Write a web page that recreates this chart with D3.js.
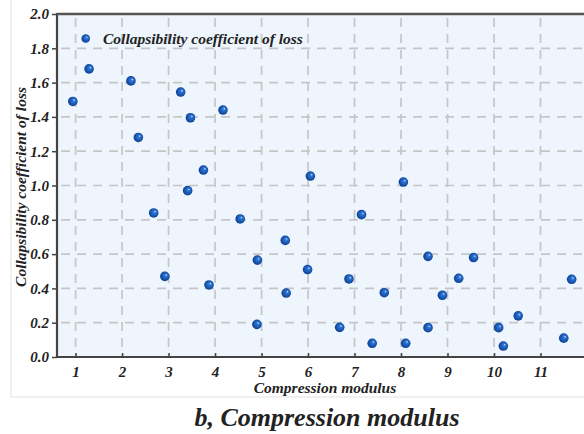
<!DOCTYPE html>
<html>
<head>
<meta charset="utf-8">
<script src="https://cdn.jsdelivr.net/npm/d3@7"></script>
<style>
  body { margin: 0; background: #fff; }
  text { font-family: "Liberation Serif", "Times New Roman", serif; font-weight: bold; font-style: italic; fill: #222; }
</style>
</head>
<body>
<svg width="584" height="434"></svg>
<script>
// データ (圧縮係数 vs 湿陥係数)
var modulus = [0.94, 1.29, 2.19, 2.35, 3.26, 3.47, 4.17, 3.75, 6.05, 3.41, 2.68, 4.54,
    5.51, 4.91, 5.99, 2.92, 3.87, 5.53, 4.90, 8.05, 7.15, 8.58, 9.56, 6.88,
    9.24, 11.67, 7.64, 8.89, 10.52, 6.68, 8.58, 10.10, 11.5, 7.38, 8.10, 10.2];
var coefficient = [1.49, 1.68, 1.61, 1.28, 1.545, 1.395, 1.44, 1.09, 1.055, 0.97, 0.84, 0.805,
    0.68, 0.565, 0.51, 0.47, 0.42, 0.373, 0.19, 1.02, 0.83, 0.587, 0.58, 0.455,
    0.459, 0.453, 0.375, 0.36, 0.24, 0.173, 0.171, 0.171, 0.11, 0.08, 0.08, 0.064];
var xTicks = [1, 2, 3, 4, 5, 6, 7, 8, 9, 10, 11];
var yTicks = [0.0, 0.2, 0.4, 0.6, 0.8, 1.0, 1.2, 1.4, 1.6, 1.8, 2.0];
var seriesName = "Collapsibility coefficient of loss";

var svg = d3.select("svg");

// 外枠
svg.append("rect")
    .attr("x", 11).attr("y", -2).attr("width", 600).attr("height", 399)
    .attr("fill", "#fff").attr("stroke", "#e2e2e2").attr("stroke-width", 1);

// プロット領域 (topはwindow.topと衝突するので別名)
var pLeft = 57, pTop = 14, pRight = 587, pBottom = 357;
var x = d3.scaleLinear().domain([0.6, 12]).range([pLeft, pRight]);
var y = d3.scaleLinear().domain([0, 2]).range([pBottom, pTop]);

// 背景
svg.append("rect")
    .attr("x", pLeft).attr("y", pTop)
    .attr("width", pRight - pLeft).attr("height", pBottom - pTop)
    .attr("fill", "#eef5fd");

// グリッド
var grid = svg.append("g")
    .attr("stroke", "#c6c6c6").attr("stroke-width", 1.7)
    .attr("stroke-dasharray", "9,7");
grid.selectAll(".vg").data(xTicks).enter().append("line")
    .attr("x1", d => x(d)).attr("x2", d => x(d))
    .attr("y1", pTop + 4).attr("y2", pBottom);
grid.selectAll(".hg").data(yTicks.filter(d => d > 0 && d < 2)).enter().append("line")
    .attr("x1", pLeft + 4).attr("x2", pRight)
    .attr("y1", d => y(d)).attr("y2", d => y(d));

// 軸
var xAxis = svg.append("g")
    .attr("transform", "translate(0," + pBottom + ")")
    .call(d3.axisBottom(x).tickValues(xTicks).tickSize(-4).tickPadding(7).tickFormat(d3.format("d")));
var yAxis = svg.append("g")
    .attr("transform", "translate(" + pLeft + ",0)")
    .call(d3.axisLeft(y).tickValues(yTicks).tickSize(5).tickPadding(3).tickFormat(d3.format(".1f")));
[xAxis, yAxis].forEach(function(a){
    a.select(".domain").remove();
    a.selectAll(".tick line").attr("stroke", "#444").attr("stroke-width", 1.5);
    a.selectAll(".tick text").style("font-size", "15px").attr("fill", "#222");
});
xAxis.selectAll(".tick text").attr("dy", "0.85em");

// 枠線
svg.append("line").attr("x1", pLeft).attr("x2", pLeft).attr("y1", pTop - 1).attr("y2", pBottom + 1)
    .attr("stroke", "#444").attr("stroke-width", 2.2);
svg.append("line").attr("x1", pLeft).attr("x2", 600).attr("y1", pBottom).attr("y2", pBottom)
    .attr("stroke", "#444").attr("stroke-width", 2.2);
svg.append("line").attr("x1", pLeft).attr("x2", 600).attr("y1", pTop).attr("y2", pTop)
    .attr("stroke", "#555").attr("stroke-width", 2.4);

// ボールのグラデーション
var grad = svg.append("defs").append("radialGradient")
    .attr("id", "ball").attr("cx", "50%").attr("cy", "50%").attr("r", "55%")
    .attr("fx", "66%").attr("fy", "34%");
grad.append("stop").attr("offset", "0%").attr("stop-color", "#dceaff");
grad.append("stop").attr("offset", "22%").attr("stop-color", "#2f78d8");
grad.append("stop").attr("offset", "100%").attr("stop-color", "#083a8c");

// 点
var pts = modulus.map(function(v, i){ return [v, coefficient[i]]; });
svg.append("g").selectAll("circle")
    .data(pts)
    .enter()
    .append("circle")
    .attr("cx", d => x(d[0]))
    .attr("cy", d => y(d[1]))
    .attr("r", 4.8)
    .attr("fill", "url(#ball)");

// 凡例
svg.append("circle").attr("cx", 85.7).attr("cy", 38.5).attr("r", 4.3).attr("fill", "url(#ball)");
svg.append("text").attr("x", 103).attr("y", 43.5)
    .style("font-size", "15.5px").text(seriesName);

// 軸タイトル
svg.append("text").attr("x", 325).attr("y", 393).attr("text-anchor", "middle")
    .style("font-size", "15.5px").text("Compression modulus");
svg.append("text")
    .attr("transform", "translate(26,187) rotate(-90)")
    .attr("text-anchor", "middle")
    .style("font-size", "15.5px").text(seriesName);

// キャプション
svg.append("text").attr("x", 327).attr("y", 426).attr("text-anchor", "middle")
    .style("font-size", "26px").text("b, Compression modulus");
</script>
</body>
</html>
